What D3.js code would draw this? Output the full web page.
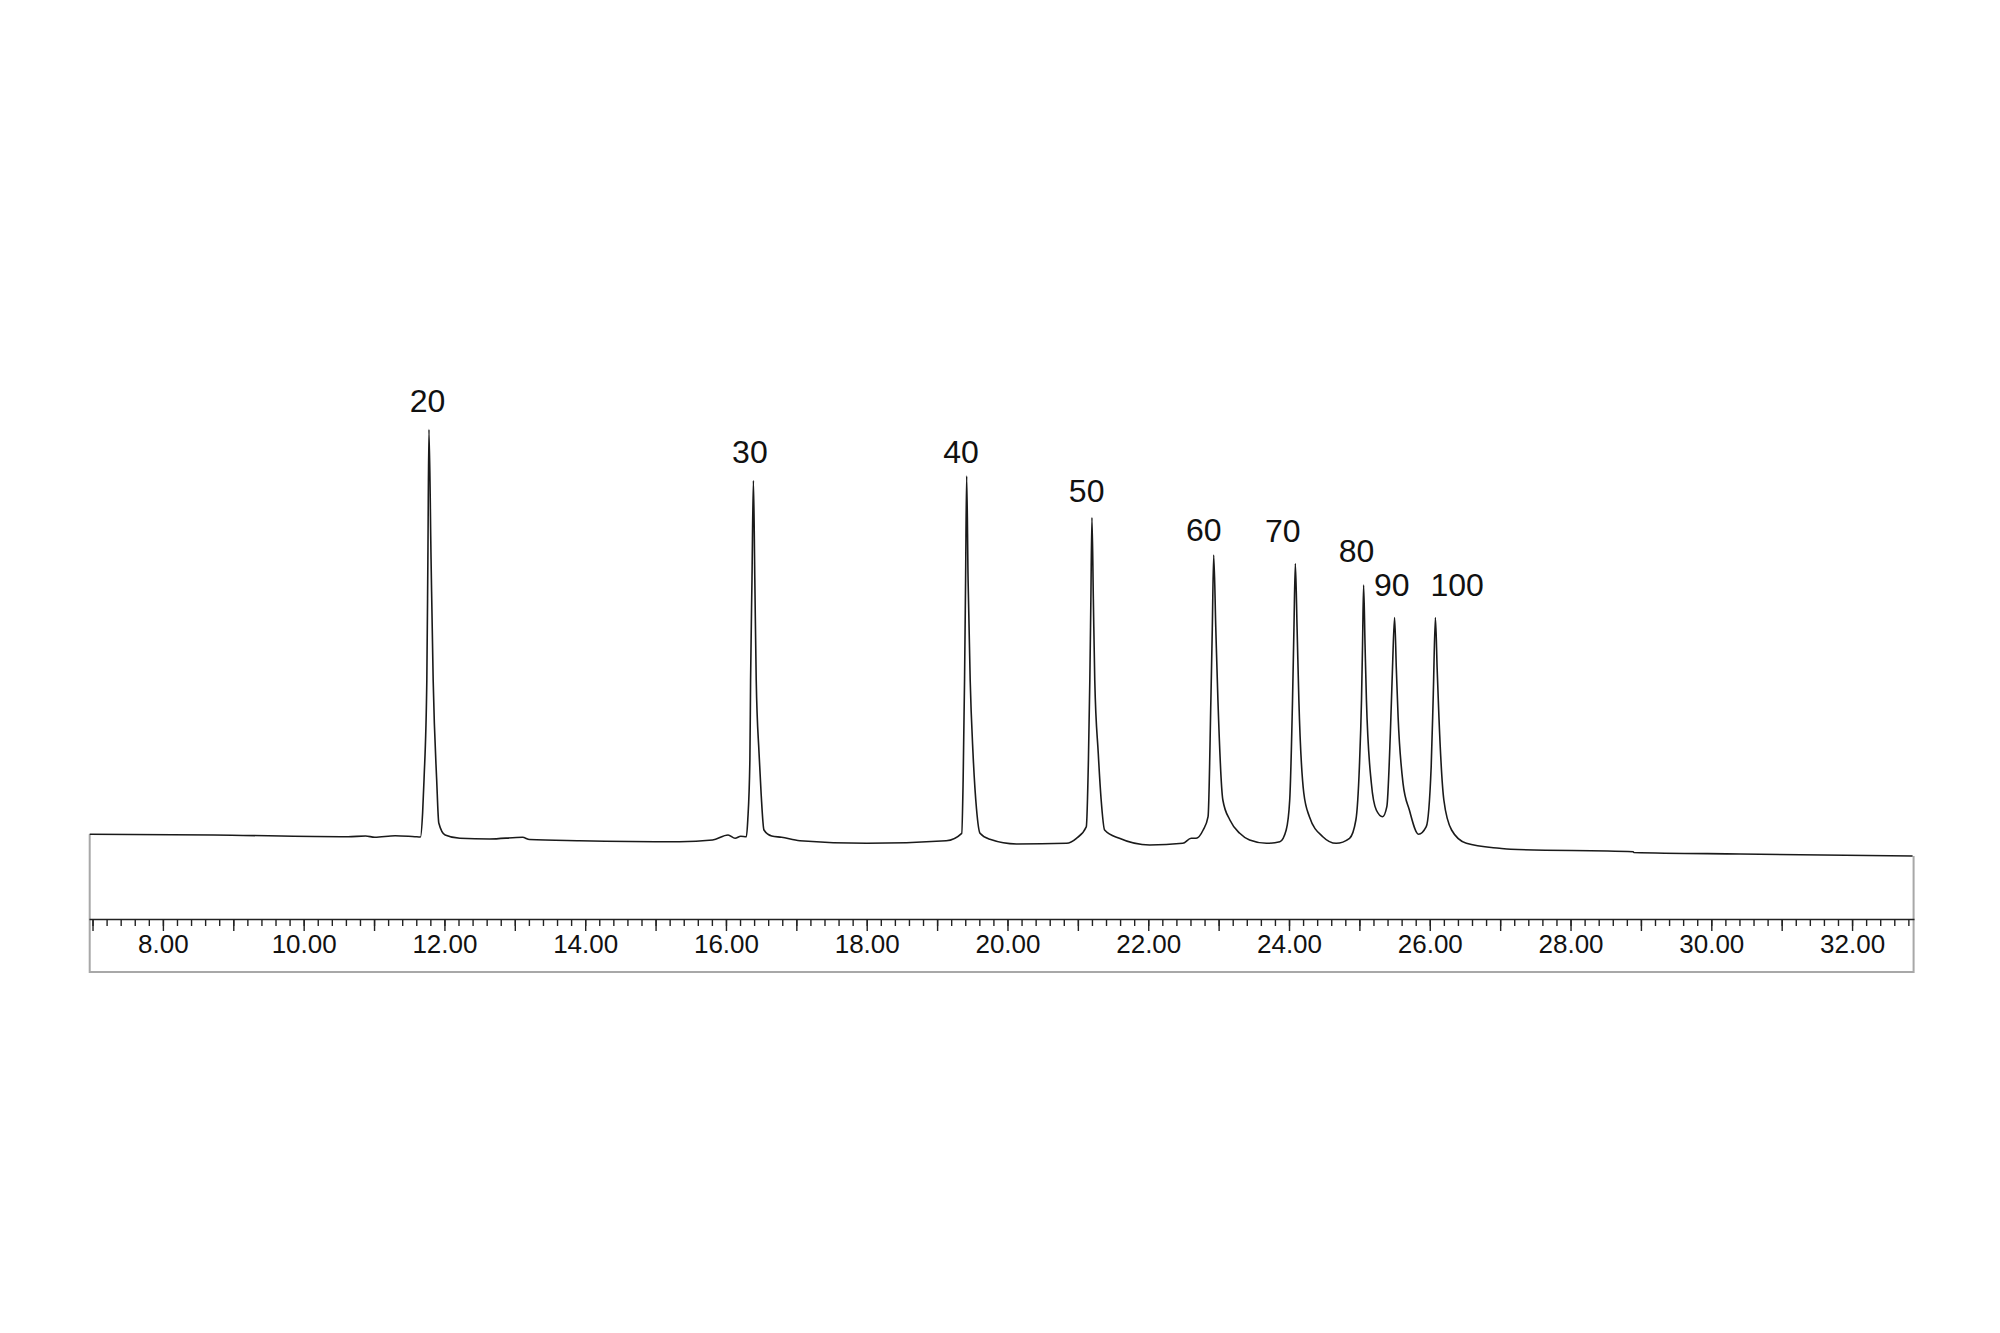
<!DOCTYPE html>
<html>
<head>
<meta charset="utf-8">
<script src="https://cdn.jsdelivr.net/npm/d3@7"></script>
<style>
  html, body { margin: 0; padding: 0; background: #ffffff; }
  svg { display: block; }
</style>
</head>
<body>
<svg id="chart" width="2000" height="1333"></svg>
<script>
// ---- DATA (retention time in min, detector response in arbitrary units) ----
const retentionTime = [
  6.96, 8.72, 10.63, 10.88, 11.01, 11.30, 11.58,
  11.66, 11.69, 11.71, 11.75, 11.765, 11.78, 11.81, 11.84, 11.89, 11.92, 12.01,
  12.22, 12.64, 13.11, 13.21, 13.92, 15.34, 15.81, 16.03, 16.13, 16.21,
  16.29, 16.31, 16.34, 16.35, 16.37, 16.39, 16.41, 16.43, 16.47, 16.50, 16.54, 16.65,
  16.79, 17.05, 18.00, 19.13,
  19.35, 19.37, 19.39, 19.405, 19.42, 19.44, 19.47, 19.51, 19.56, 19.61, 19.75,
  20.13, 20.84, 20.98,
  21.12, 21.15, 21.17, 21.185, 21.20, 21.22, 21.24, 21.29, 21.33, 21.38, 21.59,
  22.02, 22.49, 22.61, 22.68, 22.78,
  22.85, 22.89, 22.91, 22.93, 22.96, 22.99, 23.06, 23.16, 23.30, 23.44,
  23.68, 23.87,
  23.96, 24.01, 24.05, 24.07, 24.09, 24.115, 24.14, 24.21, 24.29, 24.48, 24.67,
  24.86, 24.95, 25.00, 25.03, 25.045, 25.06, 25.08, 25.10, 25.17, 25.24, 25.33,
  25.39, 25.44, 25.47, 25.50, 25.525, 25.55, 25.62, 25.71, 25.84,
  25.95, 26.02, 26.05, 26.08, 26.105, 26.13, 26.20, 26.31, 26.52,
  26.99, 27.15, 28.89, 28.90, 30.41, 32.86
];
const response = [
  16.94, 16.80, 16.46, 16.60, 16.34, 16.66, 16.46,
  16.40, 21.2, 27.8, 47.8, 72.0, 97.9, 72.0, 47.8, 27.8, 19.2, 16.8,
  16.14, 16.00, 16.34, 15.90, 15.66, 15.46, 15.80, 16.80, 16.14, 16.54,
  16.46, 19.8, 31.8, 47.8, 68.0, 87.7, 68.0, 47.8, 33.2, 25.0, 17.8, 16.6,
  16.34, 15.66, 15.14, 15.66,
  17.14, 27.8, 47.8, 68.0, 88.6, 68.0, 47.8, 33.2, 22.0, 17.14, 15.94,
  15.00, 15.14, 16.14,
  18.46, 31.8, 47.8, 64.0, 80.3, 64.0, 47.8, 33.1, 24.0, 17.8, 16.14,
  14.80, 15.14, 16.14, 16.14, 17.8,
  20.46, 43.8, 58.0, 72.8, 58.0, 43.8, 23.8, 19.8, 17.14, 15.8,
  15.14, 15.46,
  17.8, 23.8, 43.8, 58.0, 71.1, 58.0, 43.8, 25.2, 20.46, 16.46, 15.14,
  16.14, 19.8, 30.46, 43.8, 55.0, 66.8, 55.0, 43.8, 27.14, 21.8, 20.46,
  22.46, 37.14, 50.0, 60.3, 50.0, 40.46, 27.14, 21.8, 16.94,
  18.46, 30.46, 45.0, 60.3, 50.0, 40.46, 23.8, 17.8, 15.14,
  14.14, 13.94, 13.46, 13.30, 13.00, 12.60
];

// peak annotations (label text, anchor time, anchor response)
const peakLabels     = ["20", "30", "40", "50", "60", "70", "80", "90", "100"];
const peakLabelTime  = [11.76, 16.34, 19.34, 21.125, 22.79, 23.91, 24.96, 25.46, 26.39];
const peakLabelLevel = [101.4, 91.2, 91.2, 83.4, 75.6, 75.4, 71.4, 64.6, 64.6];

// axis
const timeDomain = [6.95, 32.88];
const majorTicks = d3.range(7, 33, 1);
const minorTicks = d3.range(7, 32.9, 0.2).map(v => Math.round(v * 10) / 10);

// ---- DRAWING ----
const svg = d3.select("#chart");
const x = d3.scaleLinear().domain(timeDomain).range([89, 1914]);
const y = d3.scaleLinear().domain([0, 100]).range([919, 419]);

const pts = retentionTime.map((t, i) => [t, response[i]]);
const axisY = y(0);
const boxBottom = 972;
const frameColor = "#a8a8a8";

// frame (gray box)
const first = pts[0], last = pts[pts.length - 1];
svg.append("path")
  .attr("d", `M${x(first[0])},${y(first[1])} V${boxBottom} H${x(last[0]) + 1} V${y(last[1])}`)
  .attr("fill", "none")
  .attr("stroke", frameColor)
  .attr("stroke-width", 2);

// minor ticks
svg.append("g")
  .attr("transform", `translate(0,${axisY})`)
  .call(d3.axisBottom(x).tickValues(minorTicks).tickSize(7).tickSizeOuter(0).tickFormat(""))
  .call(g => g.select(".domain").attr("stroke", "#222").attr("stroke-width", 1.5))
  .call(g => g.selectAll(".tick line").attr("stroke", "#222").attr("stroke-width", 1.4));

// major ticks with labels
svg.append("g")
  .attr("transform", `translate(0,${axisY})`)
  .call(d3.axisBottom(x).tickValues(majorTicks).tickSize(12).tickSizeOuter(0).tickPadding(4)
        .tickFormat(d => (d % 2 === 0 ? d3.format(".2f")(d) : "")))
  .call(g => g.select(".domain").remove())
  .call(g => g.selectAll(".tick line").attr("stroke", "#222").attr("stroke-width", 1.4))
  .call(g => g.selectAll(".tick text")
      .attr("fill", "#111")
      .attr("font-family", "'Liberation Sans', Arial, sans-serif")
      .attr("font-size", 26));

// chromatogram trace
const line = d3.line()
  .x(d => x(d[0]))
  .y(d => y(d[1]))
  .curve(d3.curveMonotoneX);

svg.append("path")
  .datum(pts)
  .attr("d", line)
  .attr("fill", "none")
  .attr("stroke", "#1a1a1a")
  .attr("stroke-width", 1.6)
  .attr("stroke-linejoin", "round");

// peak labels
svg.append("g")
  .selectAll("text")
  .data(peakLabels)
  .join("text")
  .attr("x", (d, i) => x(peakLabelTime[i]))
  .attr("y", (d, i) => y(peakLabelLevel[i]))
  .attr("text-anchor", "middle")
  .attr("font-family", "'Liberation Sans', Arial, sans-serif")
  .attr("font-size", 32)
  .attr("fill", "#111")
  .text(d => d);
</script>
</body>
</html>
